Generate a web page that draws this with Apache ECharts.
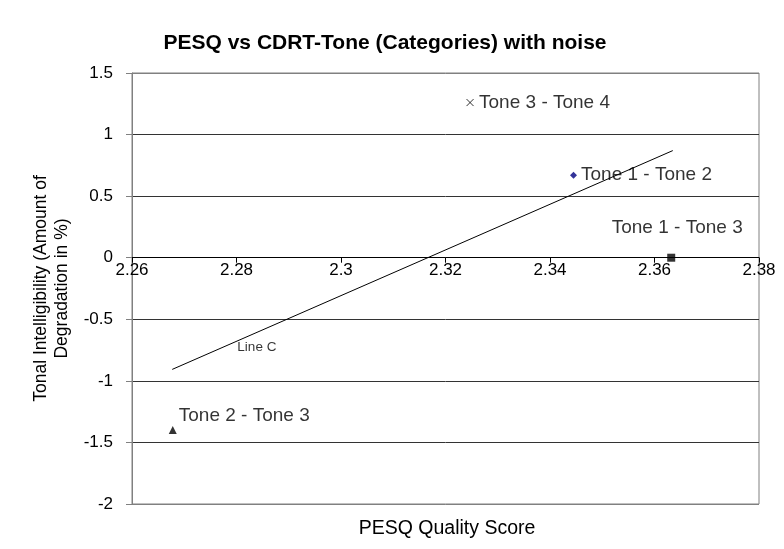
<!DOCTYPE html>
<html>
<head>
<meta charset="utf-8">
<script src="https://cdn.jsdelivr.net/npm/echarts@6/dist/echarts.min.js"></script>
<style>html,body{margin:0;padding:0;background:#fff}#c{width:784px;height:549px}</style>
</head>
<body>
<div id="c"></div>
<script>
const pointNames = ['Tone 1 - Tone 2', 'Tone 1 - Tone 3', 'Tone 2 - Tone 3', 'Tone 3 - Tone 4'];
const pesqScores = [2.3445, 2.3632, 2.2678, 2.3247];
const degradation = [0.67, 0.0, -1.40, 1.26];
const lineCX = [2.2677, 2.3635];
const lineCY = [-0.907, 0.87];
const lineCLabelPos = [2.2839, -0.726];
const xTicks = [2.26, 2.28, 2.3, 2.32, 2.34, 2.36, 2.38];
const yTicks = [-2, -1.5, -1, -0.5, 0, 0.5, 1, 1.5];

const FONT = 'Liberation Sans, Arial, sans-serif';
const symbols = ['diamond', 'rect', 'triangle', 'path://M0,0L10,10M10,0L0,10'];
const colors = ['#000080', '#000', '#000', '#000'];
const sizes = [7, 8, 8, 7];
const labelCfg = [
  {position: 'right', distance: 4},
  {position: 'top', offset: [6, -12], distance: 4},
  {position: 'right', offset: [0, -14], distance: 2},
  {position: 'right', distance: 3}
];

const series = pointNames.map((n, i) => {
  const isX = i === 3;
  return {
    type: 'scatter',
    name: n,
    symbol: symbols[i],
    symbolSize: sizes[i],
    itemStyle: isX ? {color: 'none', borderColor: '#000', borderWidth: 1} : {color: colors[i]},
    label: Object.assign({show: true, formatter: n, color: '#000', fontFamily: FONT, fontSize: 19}, labelCfg[i]),
    data: [[pesqScores[i], degradation[i]]],
    z: 5
  };
});
series.push({
  type: 'line',
  name: 'Line C',
  data: lineCX.map((x, i) => [x, lineCY[i]]),
  symbol: 'none',
  lineStyle: {color: '#000', width: 1},
  z: 4
});
series.push({
  type: 'scatter',
  data: [lineCLabelPos],
  symbolSize: 0,
  label: {show: true, position: 'inside', formatter: 'Line C', color: '#000', fontFamily: FONT, fontSize: 13.5}
});

const splitColors = yTicks.map((v, i) => (i === 0 || i === yTicks.length - 1) ? '#808080' : '#333');

// grid geometry: top 73, height 431; offset the x axis up to the y=0 line
const gridTop = 73, gridH = 431;
const zeroOffset = -gridH * (0 - yTicks[0]) / (yTicks[yTicks.length - 1] - yTicks[0]);

const chart = echarts.init(document.getElementById('c'), null, {renderer: 'canvas'});
chart.setOption({
  animation: false,
  backgroundColor: '#fff',
  title: [
    {text: 'PESQ vs CDRT-Tone (Categories) with noise', left: 380, top: 28, textAlign: 'center',
     textStyle: {fontFamily: FONT, fontSize: 21, fontWeight: 'bold', color: '#000'}},
    {text: 'PESQ Quality Score', left: 442, top: 514, textAlign: 'center',
     textStyle: {fontFamily: FONT, fontSize: 19.5, fontWeight: 'normal', color: '#000'}}
  ],
  grid: {left: 132, right: 25, top: gridTop, height: gridH, show: true, borderColor: '#808080', borderWidth: 1},
  xAxis: {
    type: 'value', min: xTicks[0], max: xTicks[xTicks.length - 1], interval: 0.02,
    position: 'bottom', offset: zeroOffset,
    axisLine: {onZero: false, lineStyle: {color: '#000', width: 1}},
    axisTick: {show: true, length: 5, inside: false, lineStyle: {color: '#000'}},
    axisLabel: {fontFamily: FONT, fontSize: 17, color: '#000', margin: 4,
      formatter: v => String(+v.toFixed(2))},
    splitLine: {show: false}
  },
  yAxis: {
    type: 'value', min: yTicks[0], max: yTicks[yTicks.length - 1], interval: 0.5,
    name: 'Tonal Intelligibility (Amount of\nDegradation in %)',
    nameLocation: 'middle', nameGap: 58, nameRotate: 90,
    nameTextStyle: {fontFamily: FONT, fontSize: 17.5, color: '#000', lineHeight: 21},
    axisLine: {show: true, onZero: false, lineStyle: {color: '#808080', width: 1}},
    axisTick: {show: true, length: 6, lineStyle: {color: '#808080'}},
    axisLabel: {fontFamily: FONT, fontSize: 17, color: '#000', margin: 19,
      formatter: v => String(+v.toFixed(1))},
    splitLine: {show: true, lineStyle: {color: splitColors, width: 1}}
  },
  series: series
});
</script>
</body>
</html>
